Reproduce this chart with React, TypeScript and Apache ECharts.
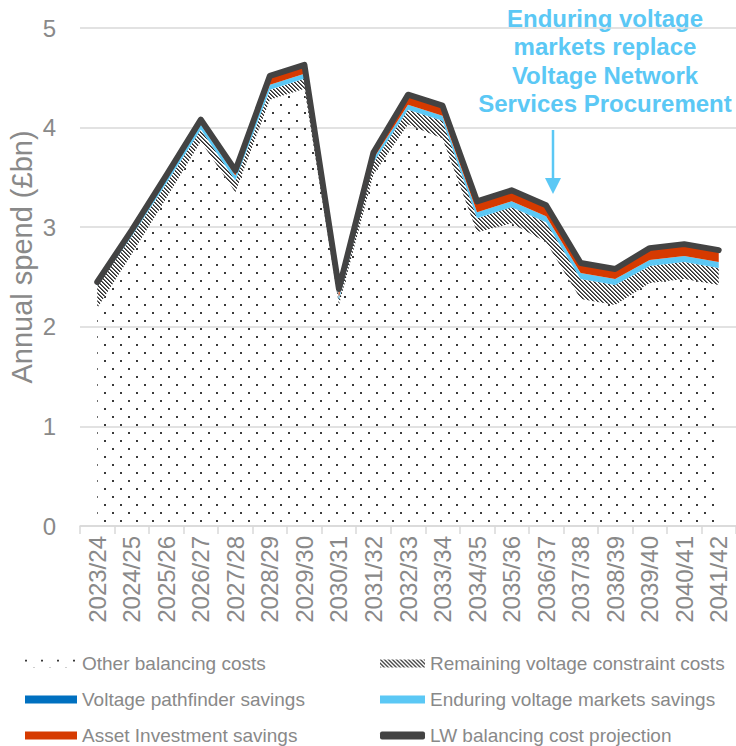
import React, { useEffect, useRef } from 'react';
import * as echarts from 'echarts';

const categories = [
  '2023/24', '2024/25', '2025/26', '2026/27', '2027/28', '2028/29', '2029/30',
  '2030/31', '2031/32', '2032/33', '2033/34', '2034/35', '2035/36', '2036/37',
  '2037/38', '2038/39', '2039/40', '2040/41', '2041/42',
];

const otherBalancing = [2.19, 2.73, 3.29, 3.86, 3.35, 4.28, 4.39, 2.22, 3.53, 4.03, 3.89, 2.95, 3.04, 2.85, 2.28, 2.22, 2.44, 2.48, 2.42];
const remainingVoltage = [0.22, 0.18, 0.15, 0.12, 0.12, 0.10, 0.10, 0.05, 0.12, 0.15, 0.18, 0.14, 0.16, 0.20, 0.20, 0.20, 0.17, 0.17, 0.17];
const pathfinderSavings = [0, 0, 0, 0, 0, 0, 0, 0, 0, 0, 0, 0, 0, 0, 0, 0, 0, 0, 0];
const enduringSavings = [0.02, 0.03, 0.04, 0.05, 0.05, 0.05, 0.05, 0.03, 0.04, 0.05, 0.05, 0.06, 0.06, 0.06, 0.06, 0.06, 0.06, 0.06, 0.06];
const assetSavings = [0.02, 0.03, 0.04, 0.05, 0.05, 0.09, 0.09, 0.03, 0.06, 0.10, 0.10, 0.11, 0.11, 0.11, 0.10, 0.10, 0.12, 0.12, 0.12];
const lwProjection = [2.45, 2.97, 3.52, 4.08, 3.57, 4.52, 4.63, 2.38, 3.75, 4.33, 4.22, 3.26, 3.37, 3.22, 2.64, 2.58, 2.79, 2.83, 2.77];

const annotationLines = ['Enduring voltage', 'markets replace', 'Voltage Network', 'Services Procurement'];

const FONT = '"Liberation Sans", Arial, sans-serif';
const GREY_TEXT = '#898989';
const GRID_GREY = '#D9D9D9';
const DARK = '#434343';
const LIGHT_BLUE = '#5BC8F5';
const DARK_BLUE = '#0070C0';
const ORANGE = '#D63A00';

function makePattern(size: number, draw: (ctx: CanvasRenderingContext2D) => void) {
  const c = document.createElement('canvas');
  c.width = size;
  c.height = size;
  const ctx = c.getContext('2d') as CanvasRenderingContext2D;
  draw(ctx);
  return { image: c.toDataURL(), imageWidth: size, imageHeight: size, repeat: 'repeat' } as any;
}

export default function App() {
  const ref = useRef<HTMLDivElement>(null);

  useEffect(() => {
    if (!ref.current) return;
    const chart = echarts.init(ref.current, null, { renderer: 'svg' });

    const dots = makePattern(16, (ctx) => {
      ctx.fillStyle = '#3a3a3a';
      ctx.fillRect(0, 0, 2, 2);
      ctx.fillRect(8, 8, 2, 2);
    });
    const hatch = makePattern(4, (ctx) => {
      ctx.fillStyle = '#2e2e2e';
      for (let i = 0; i < 4; i++) {
        ctx.fillRect(i, i, 1, 1);
      }
      ctx.fillStyle = '#6a6a6a';
      for (let i = 0; i < 4; i++) {
        ctx.fillRect((i + 1) % 4, i, 1, 1);
      }
    });

    const areaSeries = (name: string, data: number[], fill: any) => ({
      name,
      type: 'line',
      stack: 'total',
      data,
      symbol: 'none',
      showSymbol: false,
      lineStyle: { width: 0 },
      itemStyle: { color: fill },
      areaStyle: { color: fill, opacity: 1 },
      z: 2,
    });

    const textStyle = { color: GREY_TEXT, fontSize: 19, fontFamily: FONT };

    const legendItem = (left: number, top: number, itemWidth: number, name: string, icon: string, color: any) => ({
      left,
      top,
      orient: 'horizontal',
      itemWidth,
      itemHeight: 8,
      selectedMode: false,
      textStyle,
      data: [{ name, icon, itemStyle: { color } }],
    });

    chart.setOption({
      animation: false,
      grid: { left: 80, top: 28, width: 659, bottom: 220, containLabel: false },
      xAxis: {
        type: 'category',
        data: categories,
        boundaryGap: true,
        axisLine: { lineStyle: { color: GRID_GREY, width: 1.5 } },
        axisTick: { show: true, length: 8, lineStyle: { color: GRID_GREY, width: 1.5 } },
        axisLabel: { rotate: 90, color: GREY_TEXT, fontSize: 24, fontFamily: FONT, margin: 10, interval: 0 },
      },
      yAxis: {
        type: 'value',
        min: 0,
        max: 5,
        interval: 1,
        axisLine: { show: false },
        axisTick: { show: false },
        splitLine: { lineStyle: { color: GRID_GREY, width: 1.5 } },
        axisLabel: { color: GREY_TEXT, fontSize: 24, fontFamily: FONT, margin: 24 },
      },
      legend: [
        legendItem(20, 649, 52, 'Other balancing costs', 'rect', dots),
        legendItem(20, 685, 52, 'Voltage pathfinder savings', 'rect', DARK_BLUE),
        legendItem(20, 721, 52, 'Asset Investment savings', 'rect', ORANGE),
        legendItem(375, 649, 45, 'Remaining voltage constraint costs', 'rect', hatch),
        legendItem(375, 685, 45, 'Enduring voltage markets savings', 'rect', LIGHT_BLUE),
        legendItem(375, 721, 45, 'LW balancing cost projection', 'roundRect', DARK),
      ],
      series: [
        areaSeries('Other balancing costs', otherBalancing, dots),
        areaSeries('Remaining voltage constraint costs', remainingVoltage, hatch),
        areaSeries('Voltage pathfinder savings', pathfinderSavings, DARK_BLUE),
        areaSeries('Enduring voltage markets savings', enduringSavings, LIGHT_BLUE),
        areaSeries('Asset Investment savings', assetSavings, ORANGE),
        {
          name: 'LW balancing cost projection',
          type: 'line',
          data: lwProjection,
          symbol: 'none',
          showSymbol: false,
          itemStyle: { color: DARK },
          lineStyle: { color: DARK, width: 6, join: 'round', cap: 'round' },
          z: 5,
        },
      ],
      graphic: [
        {
          type: 'text',
          x: 22,
          y: 257,
          rotation: Math.PI / 2,
          style: {
            text: 'Annual spend (£bn)',
            fill: GREY_TEXT,
            fontSize: 29,
            fontFamily: FONT,
            textAlign: 'center',
            textVerticalAlign: 'middle',
          },
        },
        {
          type: 'text',
          x: 605,
          y: 4,
          style: {
            text: annotationLines.join('\n'),
            fill: LIGHT_BLUE,
            fontSize: 24,
            fontWeight: 'bold',
            fontFamily: FONT,
            lineHeight: 28.5,
            textAlign: 'center',
          },
        },
        {
          type: 'line',
          shape: { x1: 553, y1: 130, x2: 553, y2: 182 },
          style: { stroke: LIGHT_BLUE, lineWidth: 2.5 },
        },
        {
          type: 'polygon',
          shape: { points: [[545, 178], [561, 178], [553, 194]] },
          style: { fill: LIGHT_BLUE },
        },
      ],
    });

    return () => chart.dispose();
  }, []);

  return (
    <div
      ref={ref}
      style={{ position: 'fixed', left: 0, top: 0, width: 736, height: 746, background: '#fff' }}
    />
  );
}
